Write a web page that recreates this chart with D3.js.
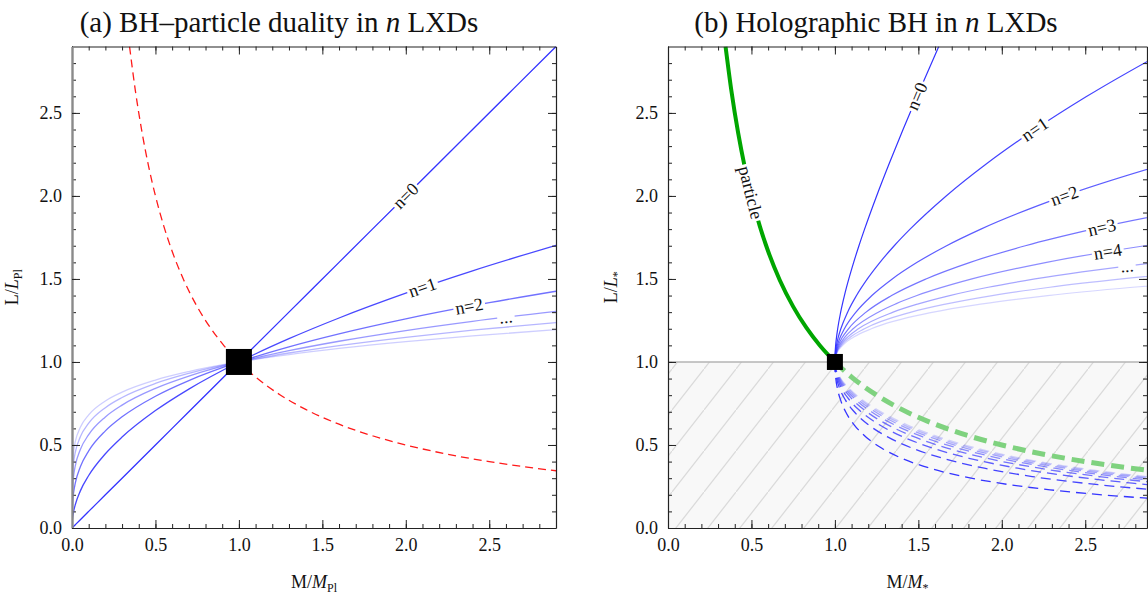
<!DOCTYPE html>
<html><head><meta charset="utf-8">
<script src="https://cdn.jsdelivr.net/npm/d3@7"></script>
<style>
body{margin:0;background:#fff}
svg{display:block}
text{font-family:"Liberation Serif","DejaVu Serif",serif;fill:#111}
</style>
</head><body>
<svg id="chart" width="1148" height="596"></svg>
<script>
// ---------------- DATA ----------------
// Panel (a): L/L_Pl versus M/M_Pl for the BH branches n = 0..5
const dualityMass = [0, 0.001, 0.005, 0.01, 0.02, 0.05, 0.1, 0.2, 0.3, 0.5, 0.7, 1.0, 1.3, 1.6, 2.0, 2.4, 2.9];
const dualityN0 = [0, 0.001, 0.005, 0.01, 0.02, 0.05, 0.1, 0.2, 0.3, 0.5, 0.7, 1.0, 1.3, 1.6, 2.0, 2.4, 2.9];
const dualityN1 = [0, 0.0316, 0.0707, 0.1, 0.1414, 0.2236, 0.3162, 0.4472, 0.5477, 0.7071, 0.8367, 1, 1.1402, 1.2649, 1.4142, 1.5492, 1.7029];
const dualityN2 = [0, 0.1, 0.171, 0.2154, 0.2714, 0.3684, 0.4642, 0.5848, 0.6694, 0.7937, 0.8879, 1, 1.0914, 1.1696, 1.2599, 1.3389, 1.426];
const dualityN3 = [0, 0.1778, 0.2659, 0.3162, 0.3761, 0.4729, 0.5623, 0.6687, 0.7401, 0.8409, 0.9147, 1, 1.0678, 1.1247, 1.1892, 1.2447, 1.305];
const dualityN4 = [0, 0.2512, 0.3466, 0.3981, 0.4573, 0.5493, 0.631, 0.7248, 0.786, 0.8706, 0.9312, 1, 1.0539, 1.0986, 1.1487, 1.1914, 1.2373];
const dualityN5 = [0, 0.3162, 0.4135, 0.4642, 0.521, 0.607, 0.6813, 0.7647, 0.8181, 0.8909, 0.9423, 1, 1.0447, 1.0815, 1.1225, 1.1571, 1.1942];
// particle (Compton) curve
const particleMass = [0.3448, 0.38, 0.42, 0.46, 0.5, 0.55, 0.6, 0.67, 0.75, 0.83, 0.91, 1.0, 1.1, 1.25, 1.4, 1.6, 1.8, 2.0, 2.25, 2.5, 2.75, 2.9];
const particleL    = [2.9, 2.6316, 2.381, 2.1739, 2.0, 1.8182, 1.6667, 1.4925, 1.3333, 1.2048, 1.0989, 1.0, 0.9091, 0.8, 0.7143, 0.625, 0.5556, 0.5, 0.4444, 0.4, 0.3636, 0.3448];

// Panel (b): holographic BH, upper branch (L > 1), M/M_* at given L/L_*
const holoUpperL = [1, 1.02, 1.05, 1.1, 1.15, 1.2, 1.3, 1.35, 1.4, 1.45, 1.5, 1.6, 1.7, 1.8, 2.0, 2.2, 2.4, 2.6, 2.9];
const holoUpperN0 = [1, 1.0002, 1.0012, 1.0045, 1.0098, 1.0167, 1.0346, null, 1.0571, null, 1.0833, 1.1125, 1.1441, 1.1778, 1.25, 1.3273, 1.4083, 1.4923, 1.6224];
const holoUpperN1 = [1, 1.0004, 1.0024, 1.0094, 1.0205, 1.0356, 1.0762, null, 1.1295, null, 1.1944, 1.27, 1.3555, 1.4504, 1.6667, 1.9164, 2.1978, 2.5097, 3.0332];
const holoUpperN2 = [1, 1.0006, 1.0037, 1.0146, 1.0324, 1.057, 1.1262, null, 1.2217, null, 1.3438, 1.4928, 1.6694, 1.8747, 2.375, 3.0029, null, null, null];
const holoUpperN3 = [1, 1.0008, 1.005, 1.0201, 1.0455, 1.0814, 1.1866, null, 1.3398, null, 1.5458, 1.8107, 2.141, 2.544, 3.6, null, null, null, null];
const holoUpperN4 = [1, 1.001, 1.0064, 1.026, 1.0599, 1.1092, 1.2598, 1.3646, 1.4916, null, 1.8212, 2.2685, 2.8567, 3.6123, null, null, null, null, null];
const holoUpperN5 = [1, 1.0012, 1.0078, 1.0323, 1.0758, 1.1409, 1.3489, 1.4997, 1.6879, 1.9189, 2.1987, 2.9324, null, null, null, null, null, null, null];
const holoUpperN6 = [1, 1.0014, 1.0092, 1.039, 1.0934, 1.1771, 1.4574, 1.6697, 1.9426, 2.288, 2.7191, 3.9024, null, null, null, null, null, null, null];
const holoUpperN7 = [1, 1.0017, 1.0107, 1.0463, 1.1128, 1.2185, 1.5901, 1.8843, 2.2747, 2.7842, 3.4403, null, null, null, null, null, null, null, null];
// lower branch (L < 1), dashed
const holoLowerL = [1, 0.96, 0.9, 0.84, 0.77, 0.7, 0.62, 0.55, 0.48, 0.42, 0.36, 0.31, 0.27, 0.23, 0.2, 0.17];
const holoLowerN0 = [1, 1.0008, 1.0056, 1.0152, 1.0344, 1.0643, 1.1165, 1.1841, 1.2817, 1.4005, 1.5689, 1.7679, 1.9869, 2.2889, 2.6, 3.0262];
const holoLowerN1 = [1, 1.0016, 1.0107, 1.0289, 1.0634, 1.1157, 1.2034, 1.313, 1.4657, 1.6461, 1.8951, 2.1826, 2.4934, 2.9162, 3.3467, null];
const holoLowerN2 = [1, 1.0024, 1.0156, 1.041, 1.0882, 1.1572, 1.2693, 1.4052, 1.5902, 1.8042, 2.095, 2.4268, 2.7827, 3.2639, null, null];
const holoLowerN3 = [1, 1.0032, 1.0201, 1.052, 1.1093, 1.1909, 1.3199, 1.4729, 1.6773, 1.911, 2.2256, 2.5825, 2.964, null, null, null];
const holoLowerN4 = [1, 1.004, 1.0243, 1.0617, 1.1274, 1.2185, 1.3594, 1.5235, 1.7404, 1.9863, 2.3158, 2.6887, 3.0867, null, null, null];
const holoLowerN5 = [1, 1.0047, 1.0283, 1.0706, 1.143, 1.2413, 1.3906, 1.5624, 1.7875, 2.0416, 2.3813, 2.7651, 3.1747, null, null, null];
const holoLowerN6 = [1, 1.0054, 1.032, 1.0786, 1.1564, 1.2603, 1.4157, 1.5928, 1.8237, 2.0836, 2.4307, 2.8226, 3.2407, null, null, null];
const holoLowerN7 = [1, 1.0061, 1.0355, 1.0857, 1.1681, 1.2763, 1.4361, 1.6171, 1.8522, 2.1165, 2.4692, 2.8674, 3.2922, null, null, null];

const majorTicks = [0, 0.5, 1.0, 1.5, 2.0, 2.5];
const minorTicksA = d3.range(0, 29).map(i => i / 10);
const minorTicksB = d3.range(0, 29).map(i => i / 10);

// curve labels: [M, L, angle, text]
const labelsA = [[2.0, 2.0, -45, "n=0"], [2.1, 1.449, -19, "n=1"], [2.38, 1.335, -10.5, "n=2"], [2.6, 1.27, -6, "..."]];
const labelsB = [[1.492, 2.6, -67, "n=0"], [2.198, 2.4, -34, "n=1"], [2.375, 2.0, -20, "n=2"], [2.6, 1.81, -13, "n=3"], [2.635, 1.665, -9, "n=4"], [2.75, 1.578, -6, "..."]];
const particleLabel = [0.495, 2.02, 76, "particle"];

const opacityA = [1, 0.9, 0.7, 0.5, 0.36, 0.24];
const opacityB = [1, 0.92, 0.8, 0.68, 0.56, 0.44, 0.32, 0.2];

// ---------------- DRAW ----------------
const svg = d3.select("#chart");
const BLUE = "#3434ff";
const serif = '"Liberation Serif","DejaVu Serif",serif';

const xA = d3.scaleLinear().domain([0, 2.9]).range([72, 556]);
const yA = d3.scaleLinear().domain([0, 2.9]).range([528, 46.5]);
const xB = d3.scaleLinear().domain([0, 2.87]).range([668, 1147]);
const yB = d3.scaleLinear().domain([0, 2.9]).range([528, 46.5]);

const defs = svg.append("defs");
function clip(id, x, y) {
  defs.append("clipPath").attr("id", id).append("rect")
    .attr("x", x.range()[0]).attr("y", y.range()[1])
    .attr("width", x.range()[1] - x.range()[0]).attr("height", y.range()[0] - y.range()[1]);
}
clip("clipA", xA, yA); clip("clipB", xB, yB);

// hatch: "/" lines, ~32 px apart horizontally, ~52 degrees
const hw = 32, hh = 41;
const hatch = defs.append("pattern").attr("id", "hatch").attr("patternUnits", "userSpaceOnUse")
  .attr("width", hw).attr("height", hh);
hatch.append("rect").attr("width", hw).attr("height", hh).attr("fill", "#f8f8f8");
hatch.append("line").attr("x1", -1).attr("y1", hh + 41 / 32).attr("x2", hw + 1).attr("y2", -41 / 32)
  .attr("stroke", "#dadada").attr("stroke-width", 1.2);

function lineGen(x, y) {
  return d3.line().x(d => x(d[0])).y(d => y(d[1])).curve(d3.curveMonotoneX);
}
function pairs(ms, ls) {
  return ms.map((m, i) => [m, ls[i]]).filter(d => d[0] != null && d[1] != null);
}

function label(g, px, py, angle, txt, size) {
  const lg = g.append("g").attr("transform", `translate(${px},${py}) rotate(${angle})`);
  const r = lg.append("rect").attr("fill", "#fff");
  const t = lg.append("text").attr("text-anchor", "middle").attr("dy", "0.33em")
    .attr("font-size", size).text(txt);
  const b = t.node().getBBox();
  r.attr("x", b.x - 2).attr("y", b.y + 1).attr("width", b.width + 4).attr("height", b.height - 2);
}

function axes(x, y, minors, leftGray) {
  const g = svg.append("g");
  const l = x.range()[0], r = x.range()[1], top = y.range()[1], bot = y.range()[0];
  const fmt = d3.format(".1f");
  const style = sel => sel.attr("font-family", serif).attr("font-size", 18)
    .call(s => s.selectAll("text").attr("fill", "#111"))
    .call(s => s.selectAll("line").attr("stroke", "#222"))
    .call(s => s.select(".domain").attr("stroke", "#222").attr("stroke-width", 1.2));
  const mkMinor = (fn, tr) => g.append("g").attr("transform", tr)
    .call(fn.tickValues(minors).tickSizeInner(-4).tickSizeOuter(0).tickFormat(""))
    .call(s => s.select(".domain").remove())
    .call(s => s.selectAll("line").attr("stroke", "#222"));
  mkMinor(d3.axisBottom(x), `translate(0,${bot})`);
  mkMinor(d3.axisTop(x), `translate(0,${top})`);
  mkMinor(d3.axisLeft(y), `translate(${l},0)`);
  mkMinor(d3.axisRight(y), `translate(${r},0)`);
  g.append("g").attr("transform", `translate(0,${bot})`)
    .call(d3.axisBottom(x).tickValues(majorTicks).tickSizeInner(-8).tickSizeOuter(0).tickPadding(10).tickFormat(fmt)).call(style);
  g.append("g").attr("transform", `translate(0,${top})`)
    .call(d3.axisTop(x).tickValues(majorTicks).tickSizeInner(-8).tickSizeOuter(0).tickFormat("")).call(style);
  const la = g.append("g").attr("transform", `translate(${l},0)`)
    .call(d3.axisLeft(y).tickValues(majorTicks).tickSizeInner(-8).tickSizeOuter(0).tickPadding(10).tickFormat(fmt)).call(style);
  g.append("g").attr("transform", `translate(${r},0)`)
    .call(d3.axisRight(y).tickValues(majorTicks).tickSizeInner(-8).tickSizeOuter(0).tickFormat("")).call(style);
  if (leftGray) la.select(".domain").attr("stroke", "#8a8a8a").attr("stroke-width", 2.4);
  return g;
}

function axisTitles(x, y, titleX, sub, ylabX, title, titleItalicPart, titleRest) {
  const cx = (x.range()[0] + x.range()[1]) / 2;
  const cy = (y.range()[0] + y.range()[1]) / 2;
  const xt = svg.append("text").attr("x", cx).attr("y", 588).attr("text-anchor", "middle").attr("font-size", 18);
  xt.append("tspan").text("M/");
  xt.append("tspan").attr("font-style", "italic").text("M");
  xt.append("tspan").attr("font-size", 12).attr("dy", 4).text(sub);
  const yt = svg.append("text").attr("transform", `translate(${ylabX},${cy}) rotate(-90)`).attr("text-anchor", "middle").attr("font-size", 18);
  yt.append("tspan").text("L/");
  yt.append("tspan").attr("font-style", "italic").text("L");
  yt.append("tspan").attr("font-size", 12).attr("dy", 4).text(sub);
  const tt = svg.append("text").attr("x", titleX).attr("y", 32).attr("text-anchor", "middle").attr("font-size", 29);
  tt.append("tspan").text(title);
  tt.append("tspan").attr("font-style", "italic").text(titleItalicPart);
  tt.append("tspan").text(titleRest);
}

// ----- Panel (a)
const gA = svg.append("g").attr("clip-path", "url(#clipA)");
const lA = lineGen(xA, yA);
const dualitySeries = [dualityN0, dualityN1, dualityN2, dualityN3, dualityN4, dualityN5];
dualitySeries.forEach((ls, n) => {
  gA.append("path").attr("d", lA(pairs(dualityMass, ls))).attr("fill", "none")
    .attr("stroke", BLUE).attr("stroke-width", 1.3).attr("stroke-opacity", opacityA[n]);
});
gA.append("path").attr("d", lA(pairs(particleMass, particleL))).attr("fill", "none")
  .attr("stroke", "#ff1a1a").attr("stroke-width", 1.3).attr("stroke-dasharray", "8,5");
gA.append("rect").attr("x", xA(1) - 13).attr("y", yA(1) - 13).attr("width", 26).attr("height", 26).attr("fill", "#000");
labelsA.forEach(d => label(gA, xA(d[0]), yA(d[1]), d[2], d[3], 18));
axes(xA, yA, minorTicksA, true);
axisTitles(xA, yA, 279, "Pl", 18, "(a) BH\u2013particle duality in ", "n", " LXDs");

// ----- Panel (b)
const gB = svg.append("g").attr("clip-path", "url(#clipB)");
const lB = lineGen(xB, yB);
gB.append("rect").attr("x", xB(0)).attr("y", yB(1)).attr("width", xB(2.87) - xB(0)).attr("height", yB(0) - yB(1))
  .attr("fill", "url(#hatch)");
gB.append("line").attr("x1", xB(0)).attr("x2", xB(2.87)).attr("y1", yB(1)).attr("y2", yB(1))
  .attr("stroke", "#b4b4b4").attr("stroke-width", 1.6);
const upperSeries = [holoUpperN0, holoUpperN1, holoUpperN2, holoUpperN3, holoUpperN4, holoUpperN5, holoUpperN6, holoUpperN7];
const lowerSeries = [holoLowerN0, holoLowerN1, holoLowerN2, holoLowerN3, holoLowerN4, holoLowerN5, holoLowerN6, holoLowerN7];
lowerSeries.forEach((ms, n) => {
  gB.append("path").attr("d", lB(pairs(ms, holoLowerL))).attr("fill", "none")
    .attr("stroke", BLUE).attr("stroke-width", 1.3).attr("stroke-opacity", opacityB[n]).attr("stroke-dasharray", "10,6");
});
upperSeries.forEach((ms, n) => {
  gB.append("path").attr("d", lB(pairs(ms, holoUpperL))).attr("fill", "none")
    .attr("stroke", BLUE).attr("stroke-width", 1.2).attr("stroke-opacity", opacityB[n]);
});
const pSplit = particleMass.indexOf(1.0);
gB.append("path").attr("d", lB(pairs(particleMass.slice(pSplit), particleL.slice(pSplit)))).attr("fill", "none")
  .attr("stroke", "#7fd27f").attr("stroke-width", 5).attr("stroke-dasharray", "13,7");
gB.append("path").attr("d", lB(pairs(particleMass.slice(0, pSplit + 1), particleL.slice(0, pSplit + 1)))).attr("fill", "none")
  .attr("stroke", "#00a600").attr("stroke-width", 4);
gB.append("rect").attr("x", xB(1) - 8).attr("y", yB(1) - 8).attr("width", 16).attr("height", 16).attr("fill", "#000");
labelsB.forEach(d => label(gB, xB(d[0]), yB(d[1]), d[2], d[3], 18));
label(gB, xB(particleLabel[0]), yB(particleLabel[1]), particleLabel[2], particleLabel[3], 18);
axes(xB, yB, minorTicksB, false);
axisTitles(xB, yB, 876, "*", 617, "(b) Holographic BH in ", "n", " LXDs");
</script>
</body></html>
